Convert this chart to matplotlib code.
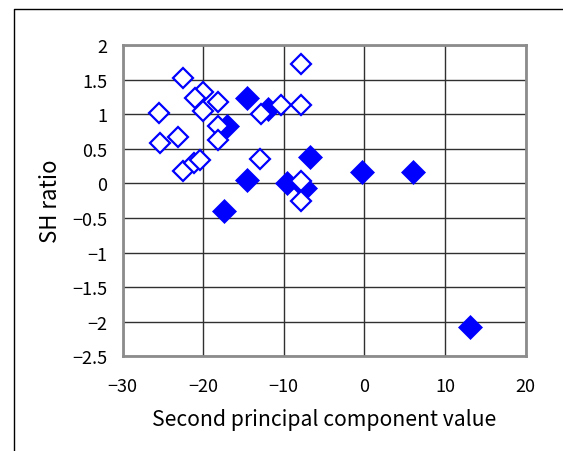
import matplotlib
matplotlib.use("Agg")
import matplotlib.pyplot as plt
from matplotlib.lines import Line2D

plt.rcParams['font.family'] = ['Noto Sans CJK JP', 'DejaVu Sans']

# Open diamonds series
open_x = [-22.5, -25.5, -20.0, -21.0, -18.1, -20.0, -18.1, -18.1, -25.4, -23.1,
          -22.5, -21.2, -20.4, -12.9, -12.8, -10.3, -7.8, -7.8, -7.8, -7.8]
open_y = [1.52, 1.02, 1.32, 1.24, 1.17, 1.05, 0.83, 0.62, 0.59, 0.67,
          0.18, 0.30, 0.34, 0.35, 1.00, 1.13, 1.13, 1.72, 0.04, -0.25]

# Filled diamonds series
fill_x = [-14.5, -17.1, -12.0, -6.7, -14.5, -9.6, -17.4, -7.4, -0.3, 6.1, 13.1]
fill_y = [1.23, 0.83, 1.08, 0.38, 0.05, 0.00, -0.40, -0.06, 0.17, 0.17, -2.08]

x_ticks = [-30, -20, -10, 0, 10, 20]
y_ticks = [2, 1.5, 1, 0.5, 0, -0.5, -1, -1.5, -2, -2.5]
y_tick_labels = ['2', '1.5', '1', '0.5', '0', '\u22120.5', '\u22121', '\u22121.5', '\u22122', '\u22122.5']
x_tick_labels = ['\u221230', '\u221220', '\u221210', '0', '10', '20']

fig = plt.figure(figsize=(5.63, 4.52), dpi=100)
ax = fig.add_axes([122.6/563, 1-357.4/452, (525.5-122.6)/563, (357.4-46)/452])

ax.set_xlim(-30, 20)
ax.set_ylim(-2.5, 2)
ax.set_xticks(x_ticks)
ax.set_xticklabels(x_tick_labels)
ax.set_yticks(y_ticks)
ax.set_yticklabels(y_tick_labels)
ax.tick_params(axis='both', length=0, labelsize=13)
ax.tick_params(axis='x', pad=15)
ax.tick_params(axis='y', pad=11)
ax.grid(True, color='#303030', linewidth=1)
ax.set_axisbelow(True)
for s in ax.spines.values():
    s.set_color('#8c8c8c')
    s.set_linewidth(2)

ax.plot(fill_x, fill_y, linestyle='none', marker='D', markersize=12.2,
        markerfacecolor='#0000ff', markeredgecolor='#0000ff', markeredgewidth=0.5, zorder=3)
ax.plot(open_x, open_y, linestyle='none', marker='D', markersize=9.8,
        markerfacecolor='white', markeredgecolor='#0000ff', markeredgewidth=1.6, zorder=4)

ax.set_xlabel('Second principal component value', fontsize=15.2, labelpad=9)
ax.set_ylabel('SH ratio', fontsize=16, labelpad=7)

fig.add_artist(Line2D([13.5/563, 13.5/563, 1.0], [0.0, 1-9.5/452, 1-9.5/452],
                      transform=fig.transFigure, color='black', linewidth=1))

fig.savefig('out.png', dpi=100)
